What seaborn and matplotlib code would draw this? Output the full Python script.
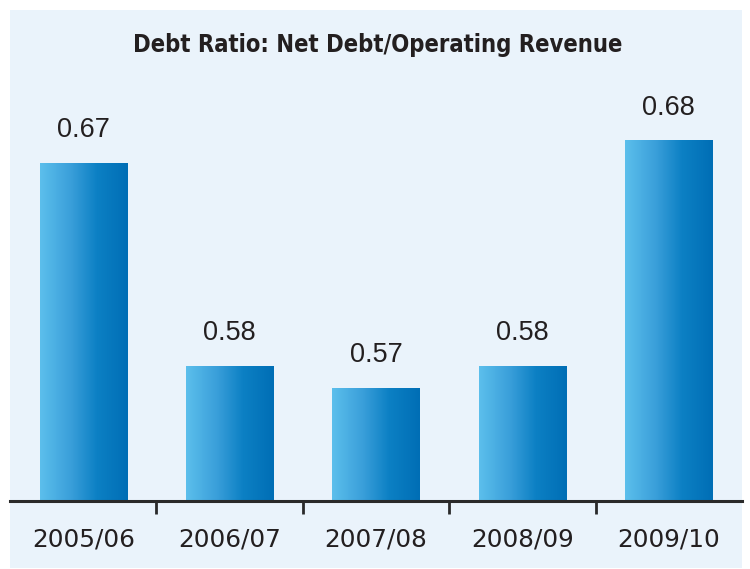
import numpy as np
import pandas as pd
import matplotlib
matplotlib.use("Agg")
import matplotlib.pyplot as plt
from matplotlib.patches import Rectangle
from matplotlib.colors import LinearSegmentedColormap
import seaborn as sns

# Data
years = ["2005/06", "2006/07", "2007/08", "2008/09", "2009/10"]
ratios = [0.67, 0.58, 0.57, 0.58, 0.68]
value_labels = ["0.67", "0.58", "0.57", "0.58", "0.68"]
title = "Debt Ratio: Net Debt/Operating Revenue"

df = pd.DataFrame({"year": years, "ratio": ratios})

sns.set_theme(style="white")
plt.rcParams["font.family"] = ["Liberation Sans", "DejaVu Sans"]

W, H = 750, 569
fig = plt.figure(figsize=(W / 100, H / 100), dpi=100)
fig.patch.set_facecolor("white")

panel_color = "#EAF3FB"
fig.patches.append(Rectangle((10 / W, 1 / H), 732 / W, 558 / H,
                             transform=fig.transFigure, facecolor=panel_color,
                             edgecolor="none", zorder=-5))

base_y = 501
ax = fig.add_axes([10 / W, (H - base_y) / H, 732 / W, (base_y - 10) / H])
ax.set_facecolor("none")

sns.barplot(data=df, x="year", y="ratio", ax=ax, width=0.595,
            color="#1C88C8", saturation=1)

ymin = 0.52
ymax = ymin + (base_y - 10) / 2250

# Horizontal gradient fill for each bar
cmap = LinearSegmentedColormap.from_list(
    "barblue", [(0.0, "#5CBFEC"), (0.35, "#3A9FDA"), (0.65, "#0C80C4"), (1.0, "#006EB5")])
grad = np.linspace(0, 1, 256).reshape(1, -1)
for patch in ax.patches:
    x0, w, h = patch.get_x(), patch.get_width(), patch.get_height()
    ax.imshow(grad, cmap=cmap, aspect="auto", extent=(x0, x0 + w, ymin, h),
              origin="lower", zorder=2, interpolation="bilinear")
    patch.set_visible(False)
ax.set_xlim(-0.5, 4.5)
ax.set_ylim(ymin, ymax)

for i, (v, lab) in enumerate(zip(ratios, value_labels)):
    ax.annotate(lab, (i, v), xytext=(0, 24), textcoords="offset points",
                ha="center", va="center", fontsize=19.5, color="#231F20")

for s in ["left", "right", "top"]:
    ax.spines[s].set_visible(False)
ax.spines["bottom"].set_color("#2A2A2A")
ax.spines["bottom"].set_linewidth(2.2)

ax.set_yticks([])
ax.set_xticks(range(len(years)))
ax.set_xticklabels(years, fontsize=17.8, color="#231F20", family=["DejaVu Sans"])
ax.tick_params(axis="x", which="major", bottom=False, length=0, pad=19)
ax.set_xticks([0.5, 1.5, 2.5, 3.5], minor=True)
ax.tick_params(axis="x", which="minor", bottom=True, length=9, width=2,
               color="#2A2A2A", direction="out")
ax.set_xlabel("")
ax.set_ylabel("")

fig.text(378 / W, 1 - 45 / H, title, ha="center", va="center",
         fontsize=17, fontweight="bold", color="#231F20",
         family=["DejaVu Sans"], fontstretch="condensed")

fig.savefig("out.png", dpi=100, facecolor="white")
